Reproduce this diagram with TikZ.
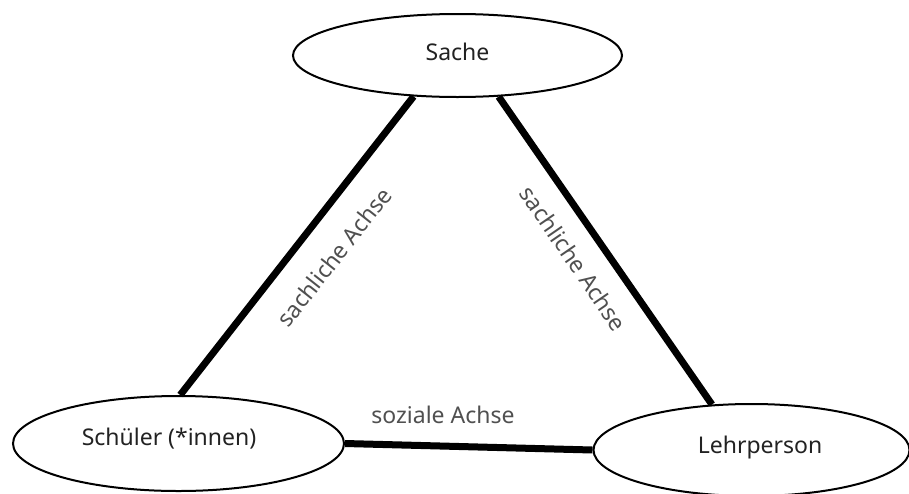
\documentclass[tikz,border=0pt]{standalone}
\usepackage{fontspec}
\setmainfont{Noto Sans}
\usetikzlibrary{shapes.geometric}
\definecolor{nodetext}{HTML}{222222}
\definecolor{axistext}{HTML}{505050}
\tikzset{
  pole/.style={draw=black, line width=2pt, ellipse, inner sep=0pt, fill=white},
  poletext/.style={anchor=base, inner sep=0pt, text=nodetext, font=\fontsize{23}{27}\selectfont},
  axis/.style={line width=7pt, black},
  axislabel/.style={inner sep=0pt, text=axistext, font=\fontsize{23}{27}\selectfont},
}
\begin{document}
\begin{tikzpicture}[x=1pt, y=1pt]
  \useasboundingbox (0,0) rectangle (909,-493);
  \clip (0,0) rectangle (909,-493);
  \fill[white] (0,0) rectangle (909,-493);

  % the three poles of the triangle
  \node[pole, minimum width=329pt, minimum height=83pt] (sache) at (457.5,-55.5) {};
  \node[pole, minimum width=331pt, minimum height=95pt] (schueler) at (178.5,-443.5) {};
  \node[pole, minimum width=316pt, minimum height=92pt] (lehr) at (751.5,-450) {};

  \node[poletext] (tsache) at (457.5,-60) {Sache};
  \node[poletext] (tschueler) at (169,-445) {Schüler (*innen)};
  \node[poletext] (tlehr) at (760,-453) {Lehrperson};

  % axes
  \draw[axis] (sache.223.7) -- (schueler.88.3);
  \draw[axis] (sache.315) -- (lehr.131.4);
  \draw[axis] (schueler.0) -- (lehr.180);

  % axis labels
  \node[axislabel, rotate=51.7] (lsach1) at (334,-257) {sachliche Achse};
  \node[axislabel, rotate=-55.5] (lsach2) at (573.5,-258.5) {sachliche Achse};
  \node[axislabel, anchor=base] (lsoz) at (443,-423) {soziale Achse};
\end{tikzpicture}
\end{document}
